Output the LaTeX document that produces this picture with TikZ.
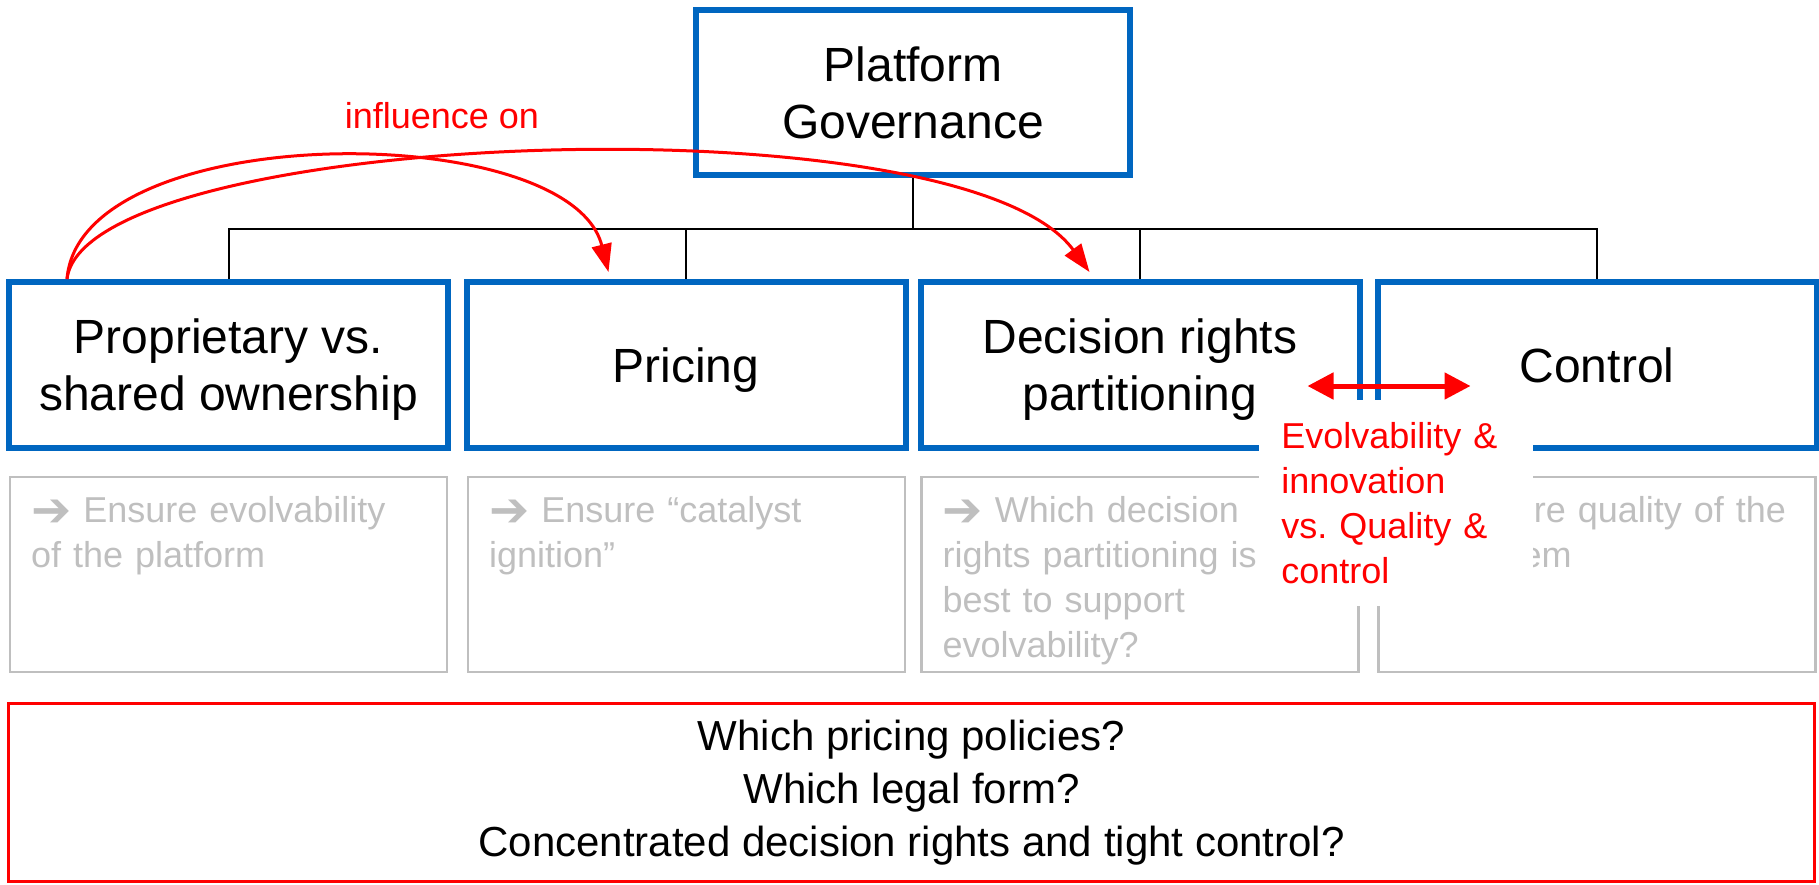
\documentclass[tikz,border=0pt]{standalone}
\usepackage{fontspec}
\setmainfont{Liberation Sans}
\newfontfamily\arrowfont{DejaVu Sans}
\usepackage{tikz}
\usetikzlibrary{arrows.meta, calc}
\definecolor{govblue}{RGB}{0,102,192}
\definecolor{hintgray}{RGB}{191,191,191}
\newcommand{\hintarrow}{\raisebox{-2pt}{\arrowfont\fontsize{24pt}{22.5pt}\selectfont ➔}}

\begin{document}
\begin{tikzpicture}[x=0.5pt, y=-0.5pt,
        gb/.style={draw=govblue, line width=3pt, minimum width=217pt, minimum height=82.5pt,
          align=center, font=\fontsize{24pt}{28.5pt}\selectfont},
        mb/.style={draw=govblue, line width=3pt, minimum width=219.5pt, minimum height=83pt,
          align=center, text depth=0pt, font=\fontsize{24pt}{28.5pt}\selectfont},
        hb/.style={draw=hintgray, line width=1.25pt, minimum width=218.5pt, minimum height=97.5pt},
        ht/.style={text=hintgray, anchor=north west, inner sep=0pt, align=left, text width=200pt,
          font=\fontsize{18pt}{22.5pt}\selectfont},
        qb/.style={draw=red, line width=1.5pt, minimum width=903pt, minimum height=89pt,
          align=center, font=\fontsize{21pt}{26.5pt}\selectfont},
        rt/.style={text=red, font=\fontsize{18pt}{22.5pt}\selectfont},
        tree/.style={line width=1pt},
        ->/.style={-{Triangle[length=14pt, width=10pt]}, red, line width=1.5pt},
        <->/.style={{Triangle[length=13pt, width=13pt]}-{Triangle[length=13pt, width=13pt]},
          red, line width=2.5pt}]
      \useasboundingbox (0,0) rectangle (1819,884);
      \node[gb] (gov) at (913,92.5) {Platform\\Governance};
      \node[mb] (own) at (228.5,365) {Proprietary vs.\\shared ownership};
      \node[mb] (price) at (686,365) {Pricing};
      \node[mb] (dec) at (1140,365) {Decision rights\\partitioning};
      \node[mb] (ctrl) at (1597,365) {Control};
      \node[hb] (h1) at (228.5,574.5) {};
      \node[hb] (h2) at (686.5,574.5) {};
      \node[hb] (h3) at (1140,574.5) {};
      \node[hb] (h4) at (1597,574.5) {};
      \node[ht] (t1) at ($(h1.north west)+(22,20)$) {\hintarrow{} Ensure evolvability\\of the platform};
      \node[ht] (t2) at ($(h2.north west)+(22,20)$) {\hintarrow{} Ensure “catalyst\\ignition”};
      \node[ht] (t3) at ($(h3.north west)+(22,20)$) {\hintarrow{} Which decision\\rights partitioning is\\best to support\\evolvability?};
      \node[ht] (t4) at ($(h4.north west)+(22,20)$) {\hintarrow{} Ensure quality of the\\ecosystem};
      \node[qb] (ask) at (911.5,792.5) {Which pricing policies?\\Which legal form?\\Concentrated decision rights and tight control?};
      % tree below the governance box
      \coordinate (bus) at (913,229);
      \draw[tree] (gov.south) -- (bus) -| (own.north);
      \draw[tree] (gov.south) -- (bus) -| (price.north);
      \draw[tree] (gov.south) -- (bus) -| (dec.north);
      \draw[tree] (gov.south) -- (bus) -| (ctrl.north);
      % influence arcs
      \coordinate (src) at ($(own.north west)+(61,0)$);
      \coordinate (dst1) at ($(price.north west)+(145,-7)$);
      \coordinate (dst2) at ($(dec.north west)+(172,-7)$);
      \draw[->] (src) .. controls +(13,-161) and +(-39,-154) .. (dst1);
      \draw[->] (src) .. controls +(18,-149) and +(-130,-177) .. (dst2);
      \node[rt] (infl) at (442,116) {influence on};
      % trade-off between decision rights and control
      \node[rt, fill=white, inner sep=11pt, anchor=north west, align=left, text width=115pt]
        (trade) at (1259,400) {Evolvability \&\\innovation\\vs.\ Quality \&\\control};
      \coordinate (ta) at ($(dec.east)+(-55,21)$);
      \coordinate (tb) at ($(ctrl.west)+(96,21)$);
      \draw[<->] (ta) -- (tb);
    \end{tikzpicture}
\end{document}
